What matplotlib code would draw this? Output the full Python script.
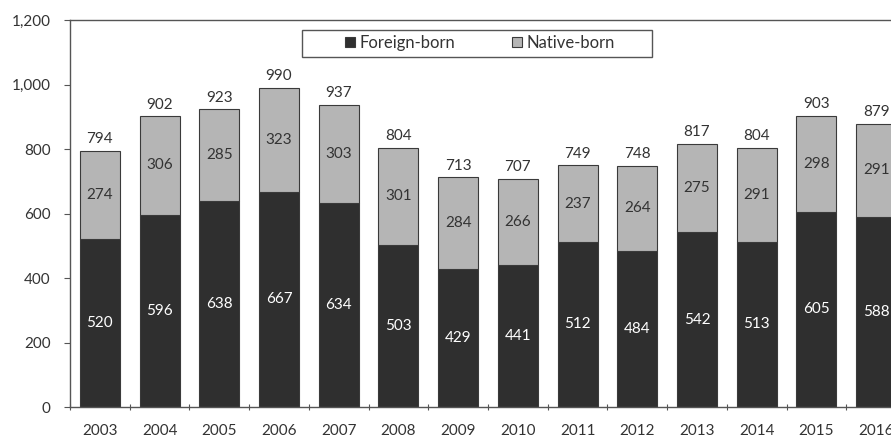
import matplotlib
matplotlib.use("Agg")
import matplotlib.pyplot as plt
from matplotlib.ticker import FuncFormatter, FixedLocator
from matplotlib.patches import Rectangle
import numpy as np

years = ["2003", "2004", "2005", "2006", "2007", "2008", "2009",
         "2010", "2011", "2012", "2013", "2014", "2015", "2016"]
foreign_born = [520, 596, 638, 667, 634, 503, 429, 441, 512, 484, 542, 513, 605, 588]
native_born = [274, 306, 285, 323, 303, 301, 284, 266, 237, 264, 275, 291, 298, 291]

plt.rcParams['font.family'] = ['Lato', 'DejaVu Sans']

dark = "#2f2f2f"
light = "#b5b5b5"
edge = "#3a3a3a"
text_col = "#333333"
FW = 891
FH = 440

fig = plt.figure(figsize=(FW / 100, FH / 100), dpi=100)
ax = fig.add_axes([70 / FW, 1 - 407 / FH, (906 - 70) / FW, (407 - 20) / FH])

x = np.arange(len(years))
w = 0.67
totals = [f + n for f, n in zip(foreign_born, native_born)]

ax.bar(x, foreign_born, width=w, color=dark, edgecolor=edge, linewidth=0.8,
       label="Foreign-born", zorder=2)
ax.bar(x, native_born, width=w, bottom=foreign_born, color=light, edgecolor=edge,
       linewidth=0.8, label="Native-born", zorder=2)

for i in range(len(years)):
    f, n, t = foreign_born[i], native_born[i], totals[i]
    ax.text(x[i], f / 2, f"{f}", ha="center", va="center", color="white",
            fontsize=11, zorder=3)
    ax.text(x[i], f + n / 2, f"{n}", ha="center", va="center", color=text_col,
            fontsize=11, zorder=3)
    ax.text(x[i], t + 14, f"{t}", ha="center", va="bottom", color=text_col,
            fontsize=11, zorder=3)

ax.set_xlim(-0.5, len(years) - 0.5)
ax.set_ylim(0, 1200)
ax.set_yticks(np.arange(0, 1201, 200))
ax.yaxis.set_major_formatter(FuncFormatter(lambda v, p: f"{int(v):,}"))

ax.set_xticks(x)
ax.set_xticklabels(years)
ax.xaxis.set_minor_locator(FixedLocator(np.arange(-0.5, len(years), 1.0)))
ax.tick_params(axis="x", which="major", length=0, pad=12, labelsize=11,
               labelcolor=text_col)
ax.tick_params(axis="x", which="minor", length=4, direction="inout",
               color="#555555", width=0.8)
ax.tick_params(axis="y", length=4, direction="out", color="#555555", width=0.8,
               labelsize=11, labelcolor=text_col, pad=10)

for side in ["left", "top", "bottom", "right"]:
    ax.spines[side].set_color("#555555")
    ax.spines[side].set_linewidth(1.0)

# Legend: entries without frame, plus a separate box around them
leg = ax.legend(loc="center", bbox_to_anchor=(480 / FW, 1 - 43 / FH),
                bbox_transform=fig.transFigure,
                ncol=2, frameon=False, fontsize=12,
                handlelength=0.6, handleheight=0.6, handletextpad=0.25,
                columnspacing=3.4, borderpad=0.2)
for t in leg.get_texts():
    t.set_color(text_col)
leg.set_zorder(6)
box = Rectangle((302 / FW, 1 - 57 / FH), (652 - 302) / FW, 27 / FH,
                transform=fig.transFigure, fill=True, facecolor="white",
                edgecolor="#555555", linewidth=1.0, zorder=5, clip_on=False)
ax.add_patch(box)

fig.savefig("out.png", dpi=100)
